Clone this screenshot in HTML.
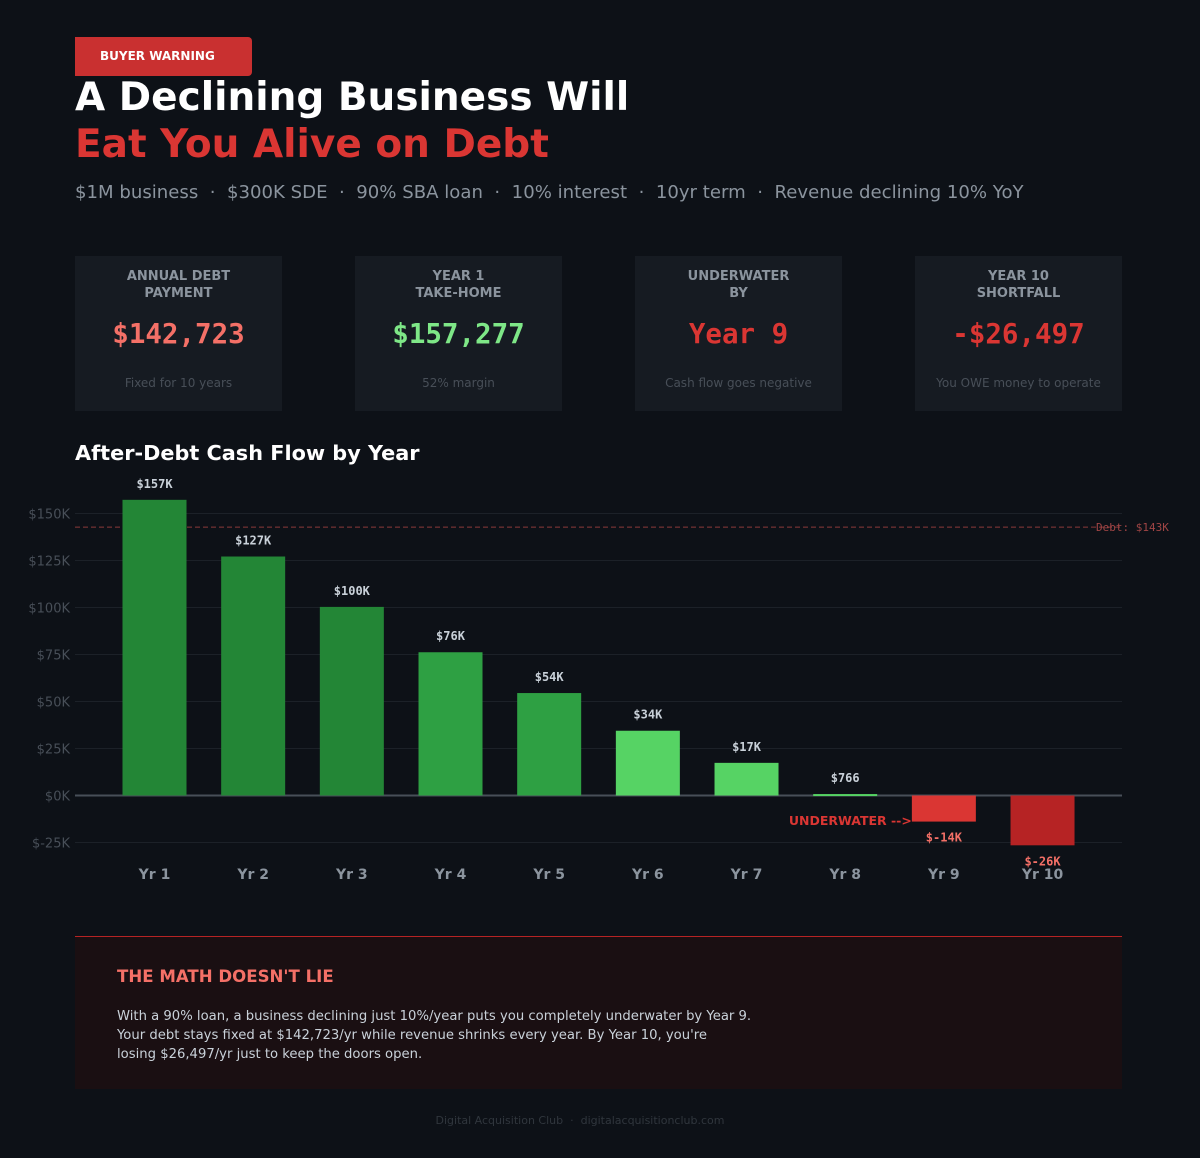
<!DOCTYPE html>
<html><head><meta charset="utf-8">
<style>
body{margin:0;background:#0d1117;width:1200px;height:1158px;overflow:hidden;font-family:"DejaVu Sans","Liberation Sans",sans-serif;position:relative}
.abs{position:absolute}
.card{position:absolute;top:256px;width:207px;height:155px;background:#161b22;text-align:center}
.card .lbl{position:absolute;top:12px;left:0;right:0;font-size:13px;font-weight:bold;color:#8b949e;line-height:17px}
.card .val{position:absolute;top:316px;left:0;right:0;font-family:"DejaVu Sans Mono","Liberation Mono",monospace;font-weight:bold;font-size:27.5px}
.card .sub{position:absolute;top:120px;left:0;right:0;font-size:12px;color:#484f58}
</style></head><body>
<div class="abs" style="left:75px;top:37px;width:177px;height:39px;background:#c93030;border-radius:0 4px 4px 0;color:#fff;font-weight:bold;font-size:12px;line-height:39px;text-indent:25px">BUYER WARNING</div>
<div class="abs" style="left:75px;top:75px;font-size:39px;font-weight:bold;color:#fff;white-space:nowrap">A Declining Business Will</div>
<div class="abs" style="left:75px;top:122px;font-size:39px;font-weight:bold;color:#da3633;white-space:nowrap">Eat You Alive on Debt</div>
<div class="abs" style="left:75px;top:182px;font-size:18.1px;color:#8b949e;white-space:nowrap">$1M business &nbsp;·&nbsp; $300K SDE &nbsp;·&nbsp; 90% SBA loan &nbsp;·&nbsp; 10% interest &nbsp;·&nbsp; 10yr term &nbsp;·&nbsp; Revenue declining 10% YoY</div>

<div class="card" style="left:75px"><div class="lbl">ANNUAL DEBT<br>PAYMENT</div><div class="val" style="top:62px;color:#f47067">$142,723</div><div class="sub">Fixed for 10 years</div></div>
<div class="card" style="left:355px"><div class="lbl">YEAR 1<br>TAKE-HOME</div><div class="val" style="top:62px;color:#7ee787">$157,277</div><div class="sub">52% margin</div></div>
<div class="card" style="left:635px"><div class="lbl">UNDERWATER<br>BY</div><div class="val" style="top:62px;color:#da3633">Year 9</div><div class="sub">Cash flow goes negative</div></div>
<div class="card" style="left:915px"><div class="lbl">YEAR 10<br>SHORTFALL</div><div class="val" style="top:62px;color:#da3633">-$26,497</div><div class="sub">You OWE money to operate</div></div>

<div class="abs" style="left:75px;top:441px;font-size:20.8px;font-weight:bold;color:#fff">After-Debt Cash Flow by Year</div>

<svg class="abs" style="left:0;top:0" width="1200" height="1158" id="chart"></svg>

<div class="abs" style="left:75px;top:936px;width:1047px;height:152px;background:#1a0f12;border-top:1px solid #b62324">
<div class="abs" style="left:42px;top:30px;font-size:16.6px;font-weight:bold;color:#f47067">THE MATH DOESN'T LIE</div>
<div class="abs" style="left:42px;top:70px;font-size:13.2px;line-height:19px;color:#c9d1d9;white-space:nowrap">With a 90% loan, a business declining just 10%/year puts you completely underwater by Year 9.<br>Your debt stays fixed at $142,723/yr while revenue shrinks every year. By Year 10, you're<br>losing $26,497/yr just to keep the doors open.</div>
</div>
<div class="abs" style="left:0;width:1160px;top:1114px;text-align:center;font-size:11px;color:#30363d">Digital Acquisition Club &nbsp;·&nbsp; digitalacquisitionclub.com</div>

<script>
const categories=["Yr 1","Yr 2","Yr 3","Yr 4","Yr 5","Yr 6","Yr 7","Yr 8","Yr 9","Yr 10"];
const values=[157277,127123,100321,76199,54489,34451,17366,766,-13876,-26497];
const valueLabels=["$157K","$127K","$100K","$76K","$54K","$34K","$17K","$766","$-14K","$-26K"];
const barColors=["#238636","#238636","#238636","#2ea043","#2ea043","#56d364","#56d364","#56d364","#da3633","#b62324"];
const yTicks=[-25000,0,25000,50000,75000,100000,125000,150000];
const yTickLabels=["$-25K","$0K","$25K","$50K","$75K","$100K","$125K","$150K"];
const debtPayment=142723;
const NS="http://www.w3.org/2000/svg",svg=document.getElementById('chart');
const y=v=>795.5-v*282/150000;
const x=i=>154.5+i*98.67;
function mk(t,a,txt){const e=document.createElementNS(NS,t);for(const k in a)e.setAttribute(k,a[k]);if(txt!=null)e.textContent=txt;svg.appendChild(e);return e;}
yTicks.forEach((t,i)=>{
 const g=mk('line',{x1:75,x2:1122,y1:y(t),y2:y(t),stroke:t===0?'#484f58':'#1c2128','stroke-width':t===0?2:1});
 
 
 const l=mk('text',{x:70,y:y(t)+5,'text-anchor':'end','font-size':13,fill:'#484f58','font-family':'DejaVu Sans,sans-serif'},yTickLabels[i]);
 
 
});
const dl=mk('line',{x1:75,x2:1122,y1:y(debtPayment),y2:y(debtPayment),stroke:'#8b3a3a','stroke-dasharray':'5,3','stroke-width':1});


const dt=mk('text',{x:1096,y:y(debtPayment)+4,'font-size':11,fill:'#a04545','font-family':'DejaVu Sans Mono,monospace'},'Debt: $'+Math.round(debtPayment/1000)+'K');


values.forEach((v,i)=>{
 const top=Math.min(y(v),y(0)),h=Math.max(Math.abs(y(v)-y(0)),2);
 const r=mk('rect',{x:x(i)-32,y:v>=0?top:y(0),width:64,height:h,fill:barColors[i]});
 
 
 const ly=v>=0?y(v)-12:y(v)+20;
 const t=mk('text',{x:x(i),y:ly,'text-anchor':'middle','font-size':12,'font-weight':'bold',fill:v>=0?'#c9d1d9':'#f47067','font-family':'DejaVu Sans Mono,monospace'},valueLabels[i]);
 
 
 const c=mk('text',{x:x(i),y:879,'text-anchor':'middle','font-size':14,'font-weight':'bold',fill:'#8b949e','font-family':'DejaVu Sans,sans-serif'},categories[i]);
 
 
});
const u=mk('text',{x:x(8)-32,y:825,'text-anchor':'end','font-size':12.5,'font-weight':'bold',fill:'#da3633','font-family':'DejaVu Sans,sans-serif'},'UNDERWATER -->');


</script>
</body></html>
